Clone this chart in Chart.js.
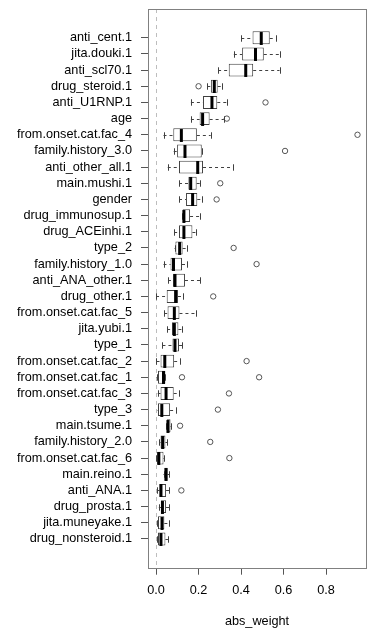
<!DOCTYPE html>
<html>
<head>
<meta charset="utf-8">
<script src="https://cdn.jsdelivr.net/npm/chart.js@4/dist/chart.umd.min.js"></script>
<style>
html,body{margin:0;padding:0;background:#fff;}
#c{display:block;}
</style>
</head>
<body>
<canvas id="c" width="377" height="628"></canvas>
<script>
const labels = ["anti_cent.1","jita.douki.1","anti_scl70.1","drug_steroid.1","anti_U1RNP.1","age",
  "from.onset.cat.fac_4","family.history_3.0","anti_other_all.1","main.mushi.1","gender",
  "drug_immunosup.1","drug_ACEinhi.1","type_2","family.history_1.0","anti_ANA_other.1",
  "drug_other.1","from.onset.cat.fac_5","jita.yubi.1","type_1","from.onset.cat.fac_2",
  "from.onset.cat.fac_1","from.onset.cat.fac_3","type_3","main.tsume.1","family.history_2.0",
  "from.onset.cat.fac_6","main.reino.1","anti_ANA.1","drug_prosta.1","jita.muneyake.1","drug_nonsteroid.1"];
const whiskerLow  = [0.401,0.366,0.292,0.241,0.164,0.164,0.035,0.083,0.055,0.108,0.108,0.124,0.085,0.087,0.035,0.056,0.000,0.038,0.052,0.030,0.002,0.003,0.008,0.007,0.047,0.016,0.002,0.035,0.005,0.013,0.005,0.005];
const q1          = [0.454,0.405,0.342,0.258,0.221,0.205,0.081,0.099,0.108,0.152,0.141,0.125,0.108,0.091,0.068,0.080,0.050,0.054,0.075,0.077,0.021,0.009,0.021,0.009,0.050,0.021,0.005,0.039,0.016,0.023,0.009,0.009];
const median      = [0.495,0.468,0.422,0.274,0.263,0.219,0.119,0.136,0.196,0.163,0.172,0.131,0.131,0.111,0.082,0.089,0.092,0.086,0.086,0.089,0.041,0.035,0.047,0.027,0.056,0.031,0.013,0.047,0.023,0.030,0.028,0.023];
const q3          = [0.535,0.507,0.457,0.290,0.288,0.252,0.192,0.215,0.221,0.191,0.194,0.160,0.171,0.125,0.122,0.136,0.103,0.110,0.105,0.108,0.085,0.044,0.083,0.066,0.068,0.044,0.035,0.054,0.047,0.047,0.039,0.044];
const whiskerHigh = [0.563,0.581,0.581,0.312,0.334,0.319,0.257,0.215,0.362,0.207,0.218,0.205,0.190,0.144,0.144,0.207,0.129,0.186,0.124,0.124,0.113,0.044,0.107,0.096,0.070,0.052,0.039,0.061,0.063,0.063,0.063,0.056];
const outlierRow = ["drug_steroid.1","anti_U1RNP.1","age","from.onset.cat.fac_4","family.history_3.0",
  "main.mushi.1","gender","type_2","family.history_1.0","drug_other.1","from.onset.cat.fac_2",
  "from.onset.cat.fac_1","from.onset.cat.fac_1","from.onset.cat.fac_3","type_3","main.tsume.1",
  "family.history_2.0","from.onset.cat.fac_6","anti_ANA.1"];
const outlierValue = [0.200,0.515,0.333,0.948,0.607,0.302,0.285,0.365,0.473,0.269,0.426,0.122,0.485,0.343,0.291,0.113,0.255,0.345,0.119];
const xTicks = [0, 0.2, 0.4, 0.6, 0.8];

const FONT = "'Liberation Sans', Arial, sans-serif";
const n = labels.length;
const pad = 0.04 * n;

const boxParts = {
  id: 'boxParts',
  beforeDatasetsDraw(chart) {
    const {ctx, chartArea, scales} = chart;
    const x0 = Math.round(scales.x.getPixelForValue(0)) + 0.5;
    ctx.save();
    ctx.strokeStyle = '#bdbdbd';
    ctx.lineWidth = 1;
    ctx.setLineDash([4, 4]);
    ctx.beginPath();
    ctx.moveTo(x0, chartArea.top);
    ctx.lineTo(x0, chartArea.bottom);
    ctx.stroke();
    ctx.restore();
  },
  afterDatasetsDraw(chart) {
    const {ctx, scales} = chart;
    const meta = chart.getDatasetMeta(0);
    ctx.save();
    for (let i = 0; i < n; i++) {
      const el = meta.data[i];
      const h = el.height;
      const y = Math.round(scales.y.getPixelForValue(i + 1)) + 0.5;
      const px = v => scales.x.getPixelForValue(v);
      ctx.strokeStyle = '#404040';
      ctx.lineWidth = 1;
      ctx.setLineDash([3, 3]);
      ctx.beginPath();
      ctx.moveTo(px(whiskerLow[i]), y); ctx.lineTo(px(q1[i]), y);
      ctx.moveTo(px(q3[i]), y); ctx.lineTo(px(whiskerHigh[i]), y);
      ctx.stroke();
      ctx.setLineDash([]);
      ctx.beginPath();
      const sl = Math.round(px(whiskerLow[i])) + 0.5, sh = Math.round(px(whiskerHigh[i])) + 0.5;
      ctx.moveTo(sl, y - h / 4); ctx.lineTo(sl, y + h / 4);
      ctx.moveTo(sh, y - h / 4); ctx.lineTo(sh, y + h / 4);
      ctx.stroke();
      ctx.strokeStyle = '#000';
      ctx.lineWidth = 3;
      ctx.beginPath();
      ctx.moveTo(px(median[i]), y - h / 2);
      ctx.lineTo(px(median[i]), y + h / 2);
      ctx.stroke();
    }
    ctx.restore();
  },
  afterDraw(chart) {
    const {ctx, chartArea: a} = chart;
    ctx.save();
    ctx.strokeStyle = '#808080';
    ctx.lineWidth = 1;
    ctx.strokeRect(Math.round(a.left) + 0.5, Math.round(a.top) + 0.5,
      Math.round(a.right - a.left), Math.round(a.bottom - a.top));
    ctx.restore();
  }
};

new Chart(document.getElementById('c'), {
  type: 'bar',
  data: {
    datasets: [{
      type: 'bar',
      data: labels.map((l, i) => ({y: i + 1, x: [q1[i], q3[i]]})),
      backgroundColor: '#ffffff',
      borderColor: '#404040',
      borderWidth: 1,
      borderSkipped: false,
      categoryPercentage: 0.8,
      barPercentage: 1.0
    }, {
      type: 'scatter',
      data: outlierRow.map((r, k) => ({y: labels.indexOf(r) + 1, x: outlierValue[k]})),
      pointStyle: 'circle',
      pointRadius: 2.7,
      borderColor: '#555',
      backgroundColor: 'rgba(0,0,0,0)',
      borderWidth: 1
    }]
  },
  options: {
    indexAxis: 'y',
    responsive: false,
    devicePixelRatio: 1,
    animation: false,
    layout: {padding: {top: 9, right: 11, left: 0, bottom: 0}},
    plugins: {legend: {display: false}, tooltip: {enabled: false}},
    scales: {
      y: {
        type: 'linear',
        offset: false,
        reverse: true,
        min: 0.5 - pad,
        max: n + 0.5 + pad,
        afterBuildTicks: s => { s.ticks = labels.map((l, i) => ({value: i + 1})); },
        afterFit: s => { s.width = 148; s.paddingTop = 0; s.paddingBottom = 0; },
        grid: {offset: false, drawOnChartArea: false, drawTicks: true, tickLength: 7, tickColor: '#555', lineWidth: 1},
        border: {display: false},
        ticks: {
          autoSkip: false,
          padding: 9,
          color: '#000',
          font: {family: FONT, size: 12.7},
          callback: v => labels[Math.round(v) - 1] || ''
        }
      },
      x: {
        type: 'linear',
        position: 'bottom',
        offset: false,
        min: -0.038,
        max: 0.988,
        afterBuildTicks: s => { s.ticks = xTicks.map(v => ({value: v})); },
        afterFit: s => { s.height = 60.3; s.paddingLeft = 0; s.paddingRight = 0; },
        grid: {drawOnChartArea: false, drawTicks: true, tickLength: 7, tickColor: '#555', lineWidth: 1},
        border: {display: false},
        ticks: {
          padding: 8.5,
          color: '#000',
          font: {family: FONT, size: 12.7},
          callback: v => Number(v).toFixed(1)
        },
        title: {
          display: true,
          text: 'abs_weight',
          color: '#000',
          font: {family: FONT, size: 12.7, lineHeight: 1},
          padding: {top: 0, bottom: 0}
        }
      }
    }
  },
  plugins: [boxParts]
});
</script>
</body>
</html>
